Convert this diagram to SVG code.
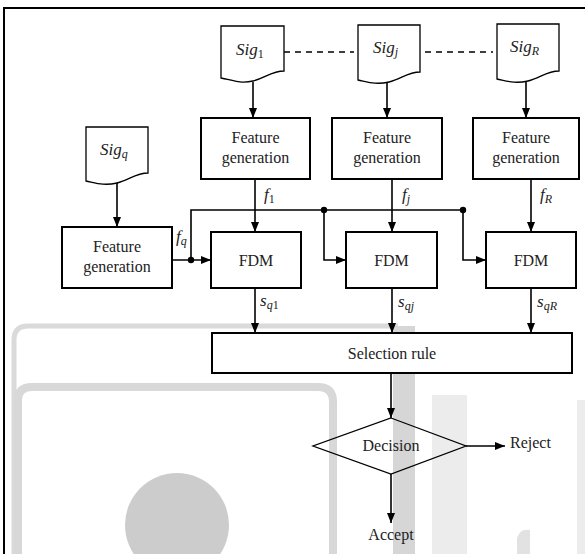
<svg xmlns="http://www.w3.org/2000/svg" width="585" height="554" viewBox="0 0 585 554">
<defs>
<marker id="arr" markerWidth="10" markerHeight="8" refX="10" refY="4" orient="auto" markerUnits="userSpaceOnUse">
<path d="M0,0 L10,4 L0,8 Z" fill="#000"/>
</marker>
<style>
.box{fill:#fff;stroke:#000;stroke-width:2}
.doc{fill:#fff;stroke:#000;stroke-width:1.3}
.ln{fill:none;stroke:#000;stroke-width:1.6}
.t{font-size:16px;fill:#222;text-anchor:middle}
.m{font-style:italic;font-size:17px;fill:#222}
.sub{font-size:12px}
.up{font-style:normal}
.dot{fill:#000}
</style>
</defs>
<rect width="585" height="554" fill="#fff"/>
<g id="watermark">
<path d="M14,554 V340 Q14,326 28,326 H398" fill="none" stroke="#dadada" stroke-width="5"/>
<rect x="393" y="326" width="22" height="228" fill="#d6d6d6"/>
<path d="M18,554 V400 Q18,387 32,387 H318 Q333,387 333,402 V554" fill="none" stroke="#d8d8d8" stroke-width="8"/>
<rect x="432" y="395" width="35" height="159" fill="#ececec"/>
<rect x="577" y="400" width="8" height="154" fill="#ececec"/>
<circle cx="177" cy="525" r="52" fill="#cccccc"/>
<path d="M517,554 V538 Q520,528 530,530 V554 Z" fill="#e2e2e2"/>
</g>
<path d="M4,554 V8 H585" fill="none" stroke="#000" stroke-width="2"/>
<g id="connectors" font-family="'Liberation Serif', 'DejaVu Serif', serif">
<path class="ln" d="M284,52 H354" stroke-dasharray="6,5"/>
<path class="ln" d="M425,52 H493" stroke-dasharray="6,5"/>
<path class="ln" d="M253,82 V118" marker-end="url(#arr)"/>
<path class="ln" d="M387,80 V118" marker-end="url(#arr)"/>
<path class="ln" d="M526,79 V118" marker-end="url(#arr)"/>
<path class="ln" d="M117,183 V227" marker-end="url(#arr)"/>
<path class="ln" d="M255,179 V232" marker-end="url(#arr)"/>
<path class="ln" d="M392,179 V232" marker-end="url(#arr)"/>
<path class="ln" d="M531,179 V232" marker-end="url(#arr)"/>
<path class="ln" d="M191,260 V210 H463"/>
<path class="ln" d="M172,260 H211" marker-end="url(#arr)"/>
<path class="ln" d="M324,210 V260 H346" marker-end="url(#arr)"/>
<path class="ln" d="M463,210 V260 H486" marker-end="url(#arr)"/>
<circle class="dot" cx="191" cy="260" r="3.2"/>
<circle class="dot" cx="324" cy="210" r="3.2"/>
<circle class="dot" cx="463" cy="210" r="3.2"/>
<path class="ln" d="M255,288 V333" marker-end="url(#arr)"/>
<path class="ln" d="M392,288 V333" marker-end="url(#arr)"/>
<path class="ln" d="M531,288 V333" marker-end="url(#arr)"/>
<path class="ln" d="M391,373 V418" marker-end="url(#arr)"/>
<path class="ln" d="M466,446 H505" marker-end="url(#arr)"/>
<path class="ln" d="M391,474 V523" marker-end="url(#arr)"/>
<text class="m" x="264" y="200">f<tspan class="sub up" dy="3">1</tspan></text>
<text class="m" x="176" y="242">f<tspan class="sub" dy="3">q</tspan></text>
<text class="m" x="402" y="200">f<tspan class="sub" dy="3">j</tspan></text>
<text class="m" x="540" y="200">f<tspan class="sub" dy="3">R</tspan></text>
<text class="m" x="260" y="306">s<tspan class="sub" dy="3">q</tspan><tspan class="sub up">1</tspan></text>
<text class="m" x="398" y="307">s<tspan class="sub" dy="3">qj</tspan></text>
<text class="m" x="537" y="307">s<tspan class="sub" dy="3">qR</tspan></text>
</g>
<g font-family="'Liberation Serif', 'DejaVu Serif', serif">
<g id="sig1">
<path class="doc" d="M221,78 V26 H284 V71 C272,71 265,78 253,81 C240,84 232,80 221,78 Z"/>
<text class="m" x="236" y="55">Sig<tspan class="sub up" dy="3">1</tspan></text>
</g>
<g id="sigj">
<path class="doc" d="M358,80 V25 H420 V72 C408,72 401,79 389,82 C376,85 368,82 358,80 Z"/>
<text class="m" x="373" y="53">Sig<tspan class="sub" dy="3">j</tspan></text>
</g>
<g id="sigR">
<path class="doc" d="M497,79 V24 H559 V71 C547,71 540,78 528,81 C515,84 507,81 497,79 Z"/>
<text class="m" x="510" y="52">Sig<tspan class="sub" dy="3">R</tspan></text>
</g>
<g id="sigq">
<path class="doc" d="M86,181 V127 H148 V173 C136,173 129,180 117,183 C104,186 96,183 86,181 Z"/>
<text class="m" x="100" y="155">Sig<tspan class="sub" dy="3">q</tspan></text>
</g>
<g id="fg1">
<rect class="box" x="201" y="118" width="109" height="61"/>
<text class="t" x="255.5" y="143">Feature</text>
<text class="t" x="255.5" y="163">generation</text>
</g>
<g id="fgj">
<rect class="box" x="332" y="118" width="110" height="61"/>
<text class="t" x="387" y="143">Feature</text>
<text class="t" x="387" y="163">generation</text>
</g>
<g id="fgR">
<rect class="box" x="473" y="118" width="106" height="61"/>
<text class="t" x="526" y="143">Feature</text>
<text class="t" x="526" y="163">generation</text>
</g>
<g id="fgq">
<rect class="box" x="62" y="227" width="110" height="61"/>
<text class="t" x="117" y="252">Feature</text>
<text class="t" x="117" y="272">generation</text>
</g>
<g id="fdm1">
<rect class="box" x="211" y="232" width="90" height="56"/>
<text class="t" x="256" y="266">FDM</text>
</g>
<g id="fdmj">
<rect class="box" x="346" y="232" width="91" height="56"/>
<text class="t" x="391.5" y="266">FDM</text>
</g>
<g id="fdmR">
<rect class="box" x="486" y="232" width="90" height="56"/>
<text class="t" x="531" y="266">FDM</text>
</g>
<g id="selection">
<rect class="box" x="212" y="333" width="360" height="40"/>
<text class="t" x="392" y="359">Selection rule</text>
</g>
<g id="decision">
<path d="M391,418 L466,446 L391,474 L313,446 Z" fill="none" stroke="#000" stroke-width="1.3"/>
<text class="t" x="391" y="451">Decision</text>
</g>
<g id="reject">
<text class="t" x="510" y="448" style="text-anchor:start">Reject</text>
</g>
<g id="accept">
<text class="t" x="391" y="540">Accept</text>
</g>
</g>
</svg>
